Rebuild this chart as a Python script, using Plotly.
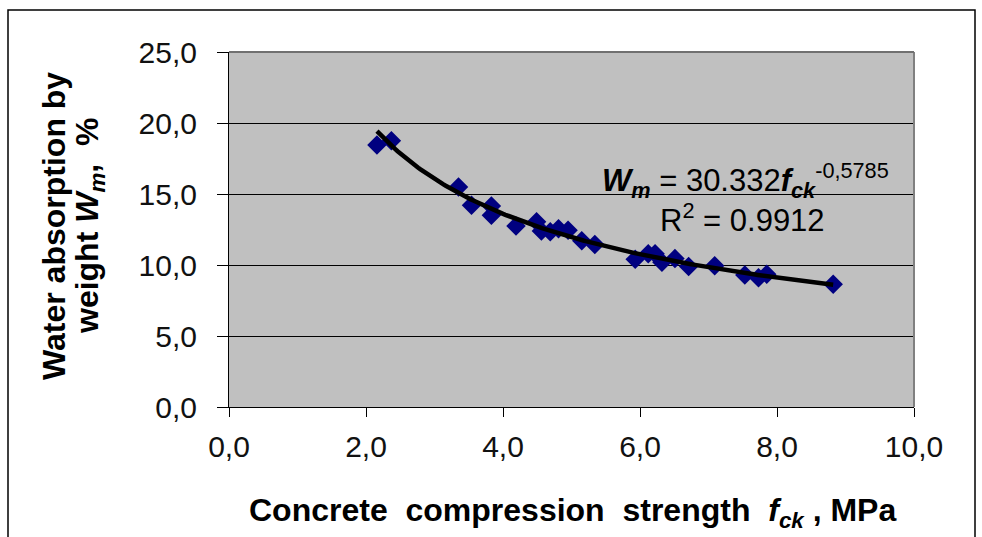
import numpy as np
import plotly.graph_objects as go

strength = [2.16, 2.37, 3.35, 3.54, 3.83, 3.83, 4.19, 4.49, 4.56, 4.69, 4.81, 4.95, 5.15, 5.34,
            5.93, 6.12, 6.22, 6.32, 6.51, 6.71, 7.09, 7.53, 7.73, 7.85, 8.82]
absorption = [18.45, 18.75, 15.5, 14.2, 14.15, 13.5, 12.75, 13.05, 12.4, 12.35, 12.55, 12.45, 11.7, 11.45,
              10.4, 10.8, 10.8, 10.2, 10.45, 9.9, 9.95, 9.3, 9.1, 9.35, 8.65]
fit_a = 30.332
fit_b = -0.5785
x_ticks = [0, 2, 4, 6, 8, 10]
x_labels = ["0,0", "2,0", "4,0", "6,0", "8,0", "10,0"]
y_ticks = [0, 5, 10, 15, 20, 25]
y_labels = ["0,0", "5,0", "10,0", "15,0", "20,0", "25,0"]

fit_x = np.linspace(min(strength), max(strength), 200)
fit_y = fit_a * fit_x ** fit_b

fig = go.Figure()
fig.add_trace(go.Scatter(x=strength, y=absorption, mode="markers",
                         marker=dict(symbol="diamond", size=15, color="#000080"), showlegend=False))
fig.add_trace(go.Scatter(x=fit_x, y=fit_y, mode="lines",
                         line=dict(color="black", width=4.5), showlegend=False, hoverinfo="skip"))

font = "Liberation Sans, Arial, sans-serif"
W, H = 982, 537
ml, mr, mt, mb = 229, 68, 52, 130
pw, ph = W - ml - mr, H - mt - mb

def px_x(p):
    return (p - ml) / pw

def px_y(p):
    return (H - mb - p) / ph

def note(text, x, y, size, angle=0):
    return dict(x=px_x(x), y=px_y(y), xref="paper", yref="paper", showarrow=False,
                xanchor="center", yanchor="middle", textangle=angle, text=text,
                font=dict(size=size, color="black", family=font))

fig.update_layout(
    width=W, height=H,
    margin=dict(l=ml, r=mr, t=mt, b=mb),
    paper_bgcolor="white", plot_bgcolor="#C0C0C0",
    font=dict(family=font, size=30, color="#111111"),
    xaxis=dict(range=[0, 10], tickvals=x_ticks, ticktext=x_labels, showgrid=False,
               showline=True, linecolor="black", linewidth=1, ticks="outside", ticklen=9,
               tickcolor="black", zeroline=False, tickfont=dict(size=30), ticklabelstandoff=4),
    yaxis=dict(range=[0, 25], tickvals=y_ticks, ticktext=y_labels, showgrid=True,
               gridcolor="black", gridwidth=1, showline=True, linecolor="black", linewidth=1,
               ticks="outside", ticklen=11, tickcolor="black", zeroline=False, tickfont=dict(size=30),
               ticklabelstandoff=14),
    shapes=[
        dict(type="line", xref="paper", yref="paper", x0=1, x1=1, y0=0, y1=1,
             line=dict(color="#808080", width=2)),
        dict(type="line", xref="paper", yref="paper", x0=0, x1=1, y0=1, y1=1,
             line=dict(color="#707070", width=2)),
        dict(type="rect", xref="paper", yref="paper", x0=px_x(8), x1=px_x(975),
             y0=px_y(545), y1=px_y(10), line=dict(color="black", width=1.5), layer="below"),
    ],
    annotations=[
        note("<b>Concrete  compression  strength  <i>f<sub>ck</sub></i> , MPa</b>", 572, 512, 32),
        note("<b>Water absorption by</b>", 54, 226, 32, -90),
        note("<b>weight <i>W<sub>m</sub></i>,  %</b>", 89, 226, 32, -90),
        note("<b><i>W<sub>m</sub></i></b> = 30.332<b><i>f<sub>ck</sub></i></b><sup>-0,5785</sup>",
             745, 180, 31),
        note("R<sup>2</sup> = 0.9912", 742, 218, 31),
    ],
)

fig.write_html("out.html", config={"displayModeBar": False},
               post_script="document.body.style.margin='0px';")
